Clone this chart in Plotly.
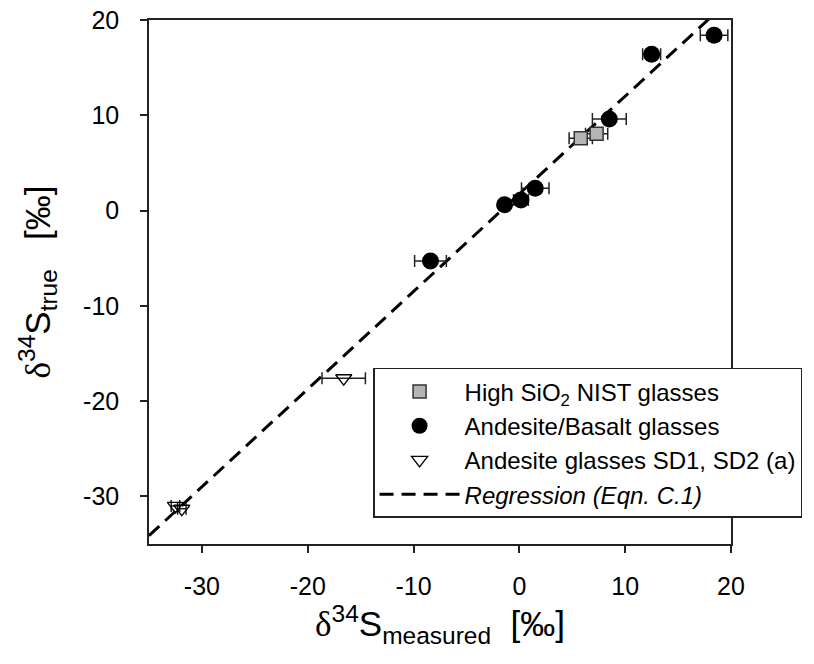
import plotly.graph_objects as go

# High SiO2 NIST glasses
nist_x = [5.8, 7.3]
nist_y = [7.6, 8.05]
nist_err = [1.1, 1.05]

# Andesite/Basalt glasses
ab_x = [18.4, 12.5, 8.5, 1.5, 0.15, -1.4, -8.4]
ab_y = [18.4, 16.4, 9.6, 2.35, 1.1, 0.6, -5.3]
ab_err = [1.3, 0.85, 1.6, 1.3, 0.7, 0.4, 1.5]

# Andesite glasses SD1, SD2 (a)
sd_x = [-16.6, -32.5, -31.9]
sd_y = [-17.6, -31.0, -31.3]
sd_err = [2.05, 0.4, 0.4]

# Regression (Eqn. C.1)
reg_slope = 1.025
reg_intercept = 1.75
reg_x = [-35, 20]
reg_y = [reg_slope * v + reg_intercept for v in reg_x]

x_ticks = [-30, -20, -10, 0, 10, 20]
y_ticks = [-30, -20, -10, 0, 10, 20]

FONT = "Liberation Sans, Arial, sans-serif"

fig = go.Figure()

fig.add_trace(go.Scatter(
    x=reg_x, y=reg_y, mode="lines",
    name="<i>Regression (Eqn. C.1)</i>",
    line=dict(color="black", width=3, dash="14px,8px"),
    legendrank=4,
))

fig.add_trace(go.Scatter(
    x=nist_x, y=nist_y, mode="markers",
    name="High SiO<sub>2</sub> NIST glasses",
    marker=dict(symbol="square", size=13, color="#b4b4b4",
                line=dict(color="#333333", width=1.5)),
    error_x=dict(type="data", array=nist_err, color="#222222", thickness=1.5, width=6),
    legendrank=1,
))

fig.add_trace(go.Scatter(
    x=ab_x, y=ab_y, mode="markers",
    name="Andesite/Basalt glasses",
    marker=dict(symbol="circle", size=17, color="black",
                line=dict(color="black", width=0)),
    error_x=dict(type="data", array=ab_err, color="#222222", thickness=1.5, width=6),
    legendrank=2,
))

fig.add_trace(go.Scatter(
    x=sd_x, y=sd_y, mode="markers",
    name="Andesite glasses SD1, SD2 (a)",
    marker=dict(symbol="triangle-down-open", size=14, color="black",
                line=dict(width=1.3)),
    error_x=dict(type="data", array=sd_err, color="#222222", thickness=1.5, width=6),
    legendrank=3,
))

fig.update_layout(
    width=814, height=664,
    margin=dict(l=149, r=83, t=20, b=120),
    plot_bgcolor="white", paper_bgcolor="white",
    font=dict(family=FONT, size=24, color="black"),
    showlegend=True,
    legend=dict(
        x=0.385, y=0.336, xanchor="left", yanchor="top",
        bgcolor="white", bordercolor="#222222", borderwidth=1.5,
        font=dict(family=FONT, size=24, color="black"),
        itemwidth=80,
        tracegroupgap=0,
    ),
)

fig.update_xaxes(
    range=[-35, 20], tickvals=x_ticks, ticktext=[str(v) for v in x_ticks],
    showline=True, linecolor="#222222", linewidth=1.5, mirror=True,
    ticks="outside", ticklen=7, tickwidth=1.5, tickcolor="#222222",
    showgrid=False, zeroline=False, automargin=False,
    ticklabelstandoff=12,
    tickfont=dict(family=FONT, size=25),
    title=dict(
        text='<span style="font-family:Liberation Serif">δ</span><sup>34</sup>S<sub>measured</sub>\u00a0\u00a0[‰]',
        font=dict(family=FONT, size=35), standoff=6,
    ),
)

fig.update_yaxes(
    range=[-35, 20], tickvals=y_ticks, ticktext=[str(v) for v in y_ticks],
    showline=True, linecolor="#222222", linewidth=1.5, mirror=True,
    ticks="outside", ticklen=7, tickwidth=1.5, tickcolor="#222222",
    showgrid=False, zeroline=False, automargin=False,
    ticklabelstandoff=16,
    tickfont=dict(family=FONT, size=25),
    title=dict(
        text='<span style="font-family:Liberation Serif">δ</span><sup>34</sup>S<sub>true</sub>\u00a0\u00a0\u00a0[‰]',
        font=dict(family=FONT, size=35), standoff=22,
    ),
)

fig.write_html("out.html")
